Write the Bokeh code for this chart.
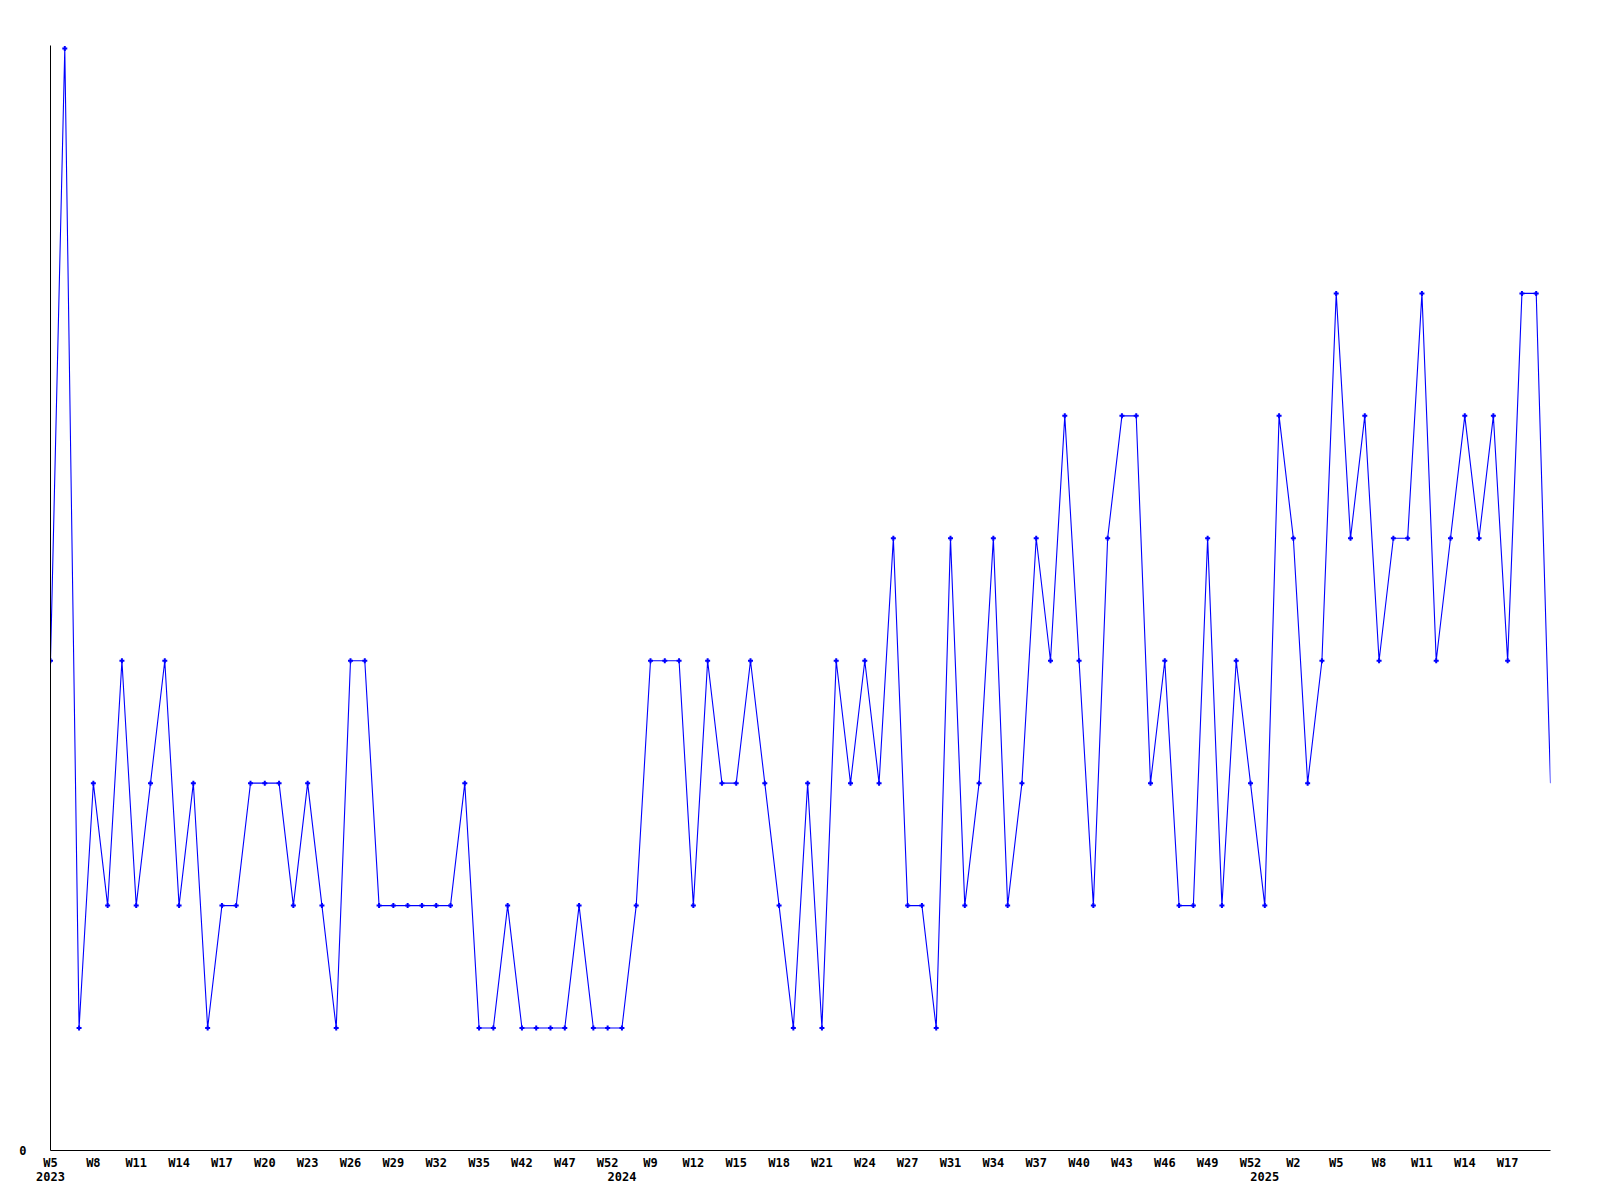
from bokeh.plotting import figure
from bokeh.models import Range1d, FixedTicker, LinearAxis
from bokeh.embed import file_html
from bokeh.resources import INLINE

# weekly counts (one value per week with data)
values = [4, 9, 1, 3, 2, 4, 2, 3, 4, 2, 3, 1, 2, 2, 3, 3, 3, 2, 3, 2,
          1, 4, 4, 2, 2, 2, 2, 2, 2, 3, 1, 1, 2, 1, 1, 1, 1, 2, 1, 1,
          1, 2, 4, 4, 4, 2, 4, 3, 3, 4, 3, 2, 1, 3, 1, 4, 3, 4, 3, 5,
          2, 2, 1, 5, 2, 3, 5, 2, 3, 5, 4, 6, 4, 2, 5, 6, 6, 3, 4, 2,
          2, 5, 2, 4, 3, 2, 6, 5, 3, 4, 7, 5, 6, 4, 5, 5, 7, 4, 5, 6,
          5, 6, 4, 7, 7, 3]
x_idx = list(range(len(values)))

week_tick_idx = [0, 3, 6, 9, 12, 15, 18, 21, 24, 27, 30, 33, 36, 39, 42, 45, 48, 51,
                 54, 57, 60, 63, 66, 69, 72, 75, 78, 81, 84, 87, 90, 93, 96, 99, 102]
week_tick_labels = ["W5", "W8", "W11", "W14", "W17", "W20", "W23", "W26", "W29", "W32",
                    "W35", "W42", "W47", "W52", "W9", "W12", "W15", "W18", "W21", "W24",
                    "W27", "W31", "W34", "W37", "W40", "W43", "W46", "W49", "W52", "W2",
                    "W5", "W8", "W11", "W14", "W17"]
year_tick_idx = [0, 40, 85]
year_tick_labels = ["2023", "2024", "2025"]

FONT = "DejaVu Sans Mono"

p = figure(frame_width=1500, frame_height=1105, output_backend="svg",
           toolbar_location=None, x_axis_location=None, y_axis_location=None,
           x_range=Range1d(0, len(values) - 1), y_range=Range1d(0, 9.0245),
           min_border_left=50, min_border_top=45, min_border_right=30,
           min_border_bottom=10)
p.outline_line_color = None
p.background_fill_color = "white"
p.border_fill_color = "white"
p.xgrid.visible = False
p.ygrid.visible = False

p.line(x_idx, values, line_color="#0000ff", line_width=1.1)
p.scatter(x_idx[:-1], values[:-1], marker="cross", size=5, line_width=2,
          line_color="#0000ff")

# y axis (only 0 labelled)
yax = LinearAxis(ticker=FixedTicker(ticks=[0]))
yax.axis_line_color = "black"
yax.axis_line_width = 1
yax.major_tick_line_color = None
yax.minor_tick_line_color = None
yax.major_label_standoff = 18
yax.major_label_text_font = FONT
yax.major_label_text_font_style = "bold"
yax.major_label_text_font_size = "12px"
yax.major_label_text_color = "black"
p.add_layout(yax, "left")

# week axis
xax = LinearAxis(ticker=FixedTicker(ticks=week_tick_idx))
xax.major_label_overrides = {i: l for i, l in zip(week_tick_idx, week_tick_labels)}
xax.axis_line_color = "black"
xax.axis_line_width = 1
xax.major_tick_line_color = None
xax.minor_tick_line_color = None
xax.major_label_standoff = -1
xax.major_label_text_font = FONT
xax.major_label_text_font_style = "bold"
xax.major_label_text_font_size = "12px"
xax.major_label_text_color = "black"
p.add_layout(xax, "below")

# year axis
yrax = LinearAxis(ticker=FixedTicker(ticks=year_tick_idx))
yrax.major_label_overrides = {i: l for i, l in zip(year_tick_idx, year_tick_labels)}
yrax.axis_line_color = None
yrax.major_tick_line_color = None
yrax.minor_tick_line_color = None
yrax.major_label_standoff = -7
yrax.major_label_text_font = FONT
yrax.major_label_text_font_style = "bold"
yrax.major_label_text_font_size = "12px"
yrax.major_label_text_color = "black"
p.add_layout(yrax, "below")

open("out.html", "w").write(file_html(p, INLINE))
